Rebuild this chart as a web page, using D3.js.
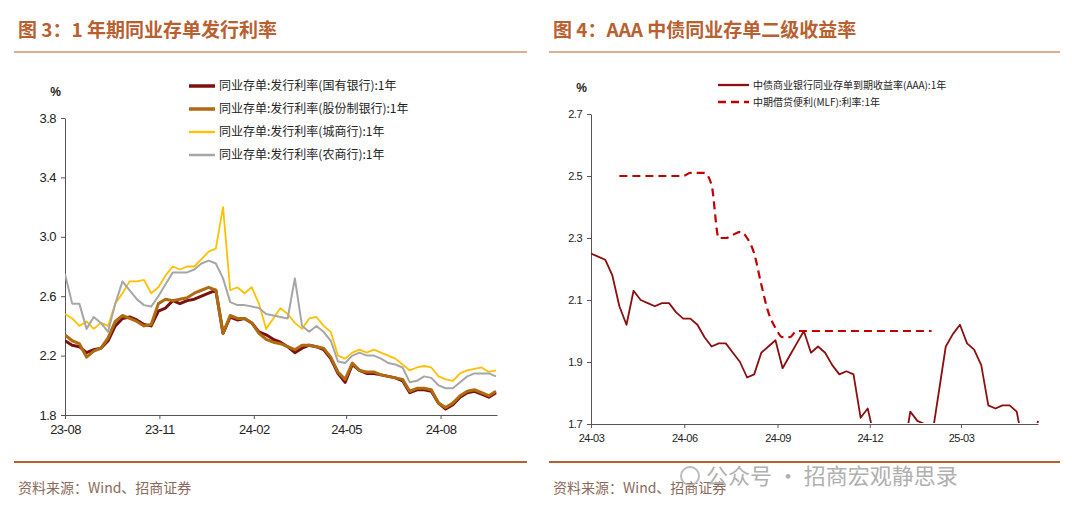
<!DOCTYPE html>
<html><head><meta charset="utf-8">
<script src="https://cdn.jsdelivr.net/npm/d3@7"></script>
<style>body{margin:0;background:#fff;font-family:"Liberation Sans",Arial,"Noto Sans CJK SC",sans-serif}</style>
</head><body>
<svg id="c" width="1072" height="515"></svg>
<script>
// left chart: weekly points from 2023-08-01
var leftStart = new Date(2023, 7, 1);
var guoyou = [2.30,2.27,2.26,2.22,2.24,2.25,2.30,2.40,2.45,2.46,2.44,2.41,2.40,2.50,2.52,2.57,2.55,2.57,2.58,2.60,2.62,2.64,2.35,2.46,2.44,2.45,2.42,2.36,2.34,2.31,2.29,2.26,2.22,2.25,2.27,2.26,2.24,2.18,2.08,2.02,2.14,2.10,2.08,2.08,2.07,2.06,2.05,2.03,1.95,1.97,1.97,1.96,1.88,1.84,1.87,1.92,1.95,1.96,1.94,1.92,1.95];
var gufen = [2.34,2.30,2.28,2.19,2.23,2.25,2.32,2.43,2.47,2.45,2.43,2.40,2.41,2.55,2.58,2.57,2.58,2.59,2.62,2.64,2.66,2.64,2.35,2.47,2.45,2.45,2.42,2.35,2.31,2.29,2.28,2.26,2.24,2.27,2.27,2.26,2.25,2.19,2.09,2.04,2.15,2.10,2.09,2.09,2.07,2.06,2.05,2.04,1.96,1.98,1.98,1.97,1.88,1.85,1.88,1.93,1.96,1.97,1.95,1.93,1.96];
var chengshang = [2.48,2.45,2.40,2.43,2.38,2.42,2.40,2.55,2.62,2.70,2.70,2.71,2.62,2.66,2.74,2.80,2.78,2.80,2.80,2.85,2.90,2.92,3.20,2.64,2.66,2.62,2.66,2.55,2.38,2.45,2.52,2.48,2.42,2.38,2.45,2.46,2.40,2.36,2.20,2.18,2.22,2.24,2.22,2.24,2.22,2.20,2.18,2.14,2.10,2.12,2.13,2.12,2.06,2.04,2.03,2.08,2.10,2.11,2.12,2.09,2.10];
var nongshang = [2.75,2.55,2.55,2.38,2.46,2.42,2.36,2.55,2.70,2.64,2.58,2.54,2.53,2.60,2.68,2.76,2.76,2.76,2.78,2.82,2.84,2.82,2.72,2.56,2.54,2.54,2.53,2.52,2.48,2.47,2.46,2.45,2.72,2.40,2.36,2.40,2.36,2.30,2.16,2.15,2.20,2.22,2.20,2.20,2.18,2.15,2.14,2.12,2.02,2.03,2.06,2.05,2.00,1.98,1.98,2.02,2.06,2.08,2.08,2.08,2.06];
var leftNames = ["同业存单:发行利率(国有银行):1年","同业存单:发行利率(股份制银行):1年","同业存单:发行利率(城商行):1年","同业存单:发行利率(农商行):1年"];
var leftTicksY = [1.8,2.2,2.6,3.0,3.4,3.8];
var leftTicksX = ["23-08","23-11","24-02","24-05","24-08"];

// right chart: weekly points from 2024-03-01
var rightStart = new Date(2024, 2, 1);
var aaa = [2.25,2.24,2.23,2.18,2.08,2.02,2.13,2.10,2.09,2.08,2.09,2.09,2.06,2.04,2.04,2.02,1.98,1.95,1.96,1.96,1.93,1.90,1.85,1.86,1.93,1.95,1.97,1.88,1.92,1.96,2.00,1.93,1.95,1.93,1.89,1.86,1.87,1.86,1.72,1.75,1.65,1.60,1.60,1.60,1.60,1.74,1.71,1.70,1.65,1.80,1.95,1.99,2.02,1.96,1.94,1.89,1.76,1.75,1.76,1.76,1.74,1.62,1.62,1.71];
var mlf = [null,null,null,null,2.50,2.50,2.50,2.50,2.50,2.50,2.50,2.50,2.50,2.50,2.51,2.51,2.51,2.47,2.30,2.30,2.31,2.32,2.30,2.25,2.15,2.06,2.01,1.98,1.98,2.00,2.00,2.00,2.00,2.00,2.00,2.00,2.00,2.00,2.00,2.00,2.00,2.00,2.00,2.00,2.00,2.00,2.00,2.00,2.00];
var rightNames = ["中债商业银行同业存单到期收益率(AAA):1年","中期借贷便利(MLF):利率:1年"];
var rightTicksY = [1.7,1.9,2.1,2.3,2.5,2.7];
var rightTicksX = ["24-03","24-06","24-09","24-12","25-03"];

var svg = d3.select("#c");
var brown = "#b8602f";
var week = 7 * 864e5;
function toSeries(start, vals) {
  return vals.map(function(v, i) { return {d: new Date(+start + i * week), v: v}; });
}
function parseTick(s) { var p = s.split("-"); return new Date(2000 + +p[0], +p[1] - 1, 1); }

function panel(opt) {
  var g = svg.append("g");
  g.append("text").attr("x", opt.x0).attr("y", 37).attr("fill", brown)
    .attr("font-size", 19).attr("font-weight", "bold")
    .attr("font-family", "'Noto Sans CJK SC',sans-serif").text(opt.title);
  g.append("line").attr("x1", opt.x0 - 4).attr("x2", opt.x1).attr("y1", 52).attr("y2", 52).attr("stroke", brown).attr("stroke-width", 1);
  g.append("line").attr("x1", opt.x0 - 4).attr("x2", opt.x1).attr("y1", 462).attr("y2", 462).attr("stroke", brown).attr("stroke-width", 2);
  g.append("text").attr("x", opt.x0).attr("y", 493).attr("fill", "#8a6a5a").attr("font-size", 14)
    .attr("font-family", "'Noto Sans CJK SC',sans-serif").text("资料来源：Wind、招商证券");

  var x = d3.scaleTime().domain(opt.xdom).range(opt.xr);
  var y = d3.scaleLinear().domain(opt.ydom).range(opt.yr);
  var ax = g.append("g").attr("transform", "translate(0," + opt.yr[0] + ")")
    .call(d3.axisBottom(x).tickValues(opt.xticks.map(parseTick)).tickFormat(d3.timeFormat("%y-%m")).tickSize(4).tickPadding(6).tickSizeOuter(0));
  ax.select(".domain").attr("stroke", "#555");
  ax.selectAll("line").attr("stroke", "#555");
  ax.selectAll("text").attr("font-size", opt.fs).attr("fill", "#222").attr("font-family", "'Liberation Sans',Arial").attr("letter-spacing", "-0.5");
  var ay = g.append("g").attr("transform", "translate(" + opt.xr[0] + ",0)")
    .call(d3.axisLeft(y).tickValues(opt.yticks).tickFormat(d3.format(".1f")).tickSize(4).tickPadding(5).tickSizeOuter(0));
  ay.select(".domain").attr("stroke", "#555");
  ay.selectAll("line").attr("stroke", "#555");
  ay.selectAll("text").attr("font-size", opt.fs).attr("fill", "#222").attr("font-family", "'Liberation Sans',Arial").attr("letter-spacing", "-0.5");
  g.append("text").attr("x", opt.xr[0] - 4).attr("y", opt.yr[1] - 22).attr("text-anchor", "end")
    .attr("font-size", 12).attr("font-weight", "bold").attr("fill", "#222").text("%");

  var cid = "clip" + opt.x0;
  g.append("clipPath").attr("id", cid).append("rect")
    .attr("x", opt.xr[0]).attr("y", opt.yr[1] - 5).attr("width", opt.xr[1] - opt.xr[0] + 5).attr("height", opt.yr[0] - opt.yr[1] + 4);
  var line = d3.line().defined(function(d) { return d.v != null; })
    .x(function(d) { return x(d.d); }).y(function(d) { return y(d.v); });
  opt.series.forEach(function(s, i) {
    var l = line.curve(s.curve || d3.curveLinear);
    g.append("path").attr("clip-path", "url(#" + cid + ")").datum(toSeries(opt.start, s.vals))
      .attr("fill", "none").attr("stroke", s.color).attr("stroke-width", s.w)
      .attr("stroke-dasharray", s.dash || null).attr("stroke-linejoin", "round").attr("d", l);
    var ly = opt.legY + i * opt.legDy;
    g.append("line").attr("x1", opt.legX).attr("x2", opt.legX + opt.legW).attr("y1", ly).attr("y2", ly)
      .attr("stroke", s.color).attr("stroke-width", s.w + 0.5).attr("stroke-dasharray", s.dash || null);
    g.append("text").attr("x", opt.legX + opt.legW + 4).attr("y", ly + 4).attr("font-size", opt.legFs)
      .attr("fill", "#222").attr("font-family", "'Noto Sans CJK SC',sans-serif").text(s.name);
  });
}

panel({
  x0: 18, x1: 527, title: "图 3：1 年期同业存单发行利率",
  start: leftStart, xdom: [leftStart, new Date(2024, 8, 25)], xr: [65, 497],
  ydom: [1.8, 3.8], yr: [415, 118], yticks: leftTicksY, xticks: leftTicksX, fs: 13,
  legX: 189, legY: 86, legDy: 23, legW: 26, legFs: 12,
  series: [
    {name: leftNames[0], vals: guoyou, color: "#7b1010", w: 3},
    {name: leftNames[1], vals: gufen, color: "#b06a10", w: 3},
    {name: leftNames[2], vals: chengshang, color: "#ffc000", w: 1.8},
    {name: leftNames[3], vals: nongshang, color: "#a6a6a6", w: 2}
  ]
});

panel({
  x0: 553, x1: 1060, title: "图 4：AAA 中债同业存单二级收益率",
  start: rightStart, xdom: [rightStart, new Date(2025, 4, 16)], xr: [591, 1038],
  ydom: [1.7, 2.7], yr: [424, 114], yticks: rightTicksY, xticks: rightTicksX, fs: 11,
  legX: 718, legY: 85, legDy: 17, legW: 31, legFs: 10,
  series: [
    {name: rightNames[0], vals: aaa, color: "#8b0f10", w: 1.8},
    {name: rightNames[1], vals: mlf, color: "#c00000", w: 2.2, dash: "8,5", curve: d3.curveMonotoneX}
  ]
});

// watermark
svg.append("circle").attr("cx", 690).attr("cy", 476).attr("r", 9).attr("fill", "none").attr("stroke", "#bbb").attr("stroke-width", 2);
svg.append("text").attr("x", 706).attr("y", 484).attr("font-size", 22).attr("fill", "#b0b0b0")
  .attr("font-family", "'Noto Sans CJK SC',sans-serif").text("公众号 · 招商宏观静思录");
</script>
</body></html>
